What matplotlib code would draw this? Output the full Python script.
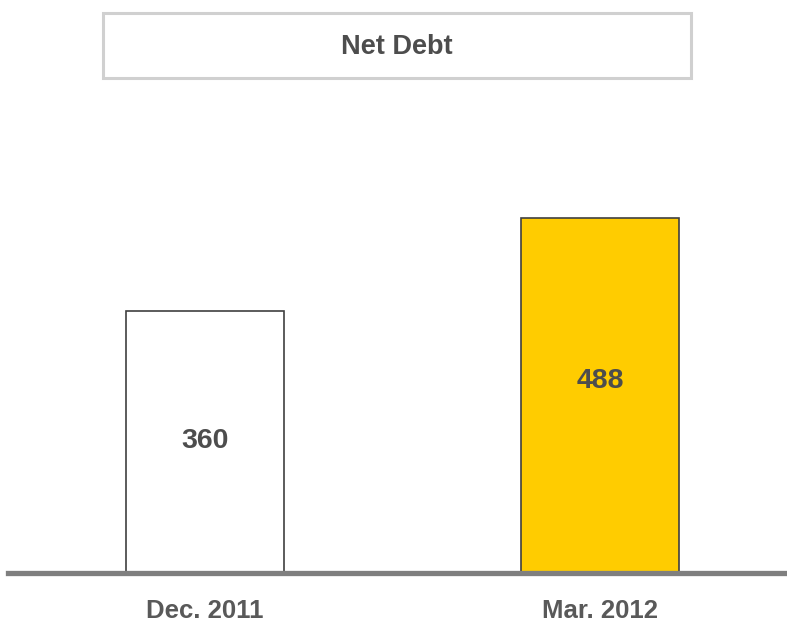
import matplotlib.pyplot as plt
from matplotlib.patches import Rectangle

categories = ["Dec. 2011", "Mar. 2012"]
net_debt = [360, 488]
bar_colors = ["#ffffff", "#ffcc00"]
label_frac = [0.505, 0.54]

plt.rcParams["font.family"] = ["Liberation Sans", "DejaVu Sans"]

W, H = 787, 625
fig = plt.figure(figsize=(W / 100, H / 100), dpi=100)

# axes: baseline at 573 px from top, spans full width
base_px = 573
ax = fig.add_axes([0, (H - base_px) / H, 1, base_px / H])
ax.set_xlim(-205 / 395, 1 + 187 / 395)
ax.set_ylim(0, base_px / 0.728)
ax.axis("off")

x = range(len(categories))
ax.bar(x, net_debt, width=0.4, color=bar_colors, edgecolor="#404040",
       linewidth=1.2, zorder=2)
ax.axhline(0, xmin=8 / W, xmax=1, color="#7f7f7f", linewidth=3.8,
           clip_on=False, zorder=3)

for i, v in enumerate(net_debt):
    ax.text(i, v * label_frac[i], str(v), ha="center", va="center",
            fontsize=20.5, fontweight="bold", color="#4d4d4d")
    ax.annotate(categories[i], xy=(i, 0), xytext=(0, -38 * 0.72),
                textcoords="offset points", ha="center", va="center",
                fontsize=18.5, fontweight="bold", color="#595959",
                annotation_clip=False)

# title box
fig.patches.append(Rectangle((103 / W, 1 - 78 / H), 588 / W, 65 / H,
                             transform=fig.transFigure, facecolor="white",
                             edgecolor="#d0d0d0", linewidth=2.2))
fig.text(397 / W, 1 - 47 / H, "Net Debt", ha="center", va="center",
         fontsize=19.5, fontweight="bold", color="#4d4d4d")

fig.savefig("out.png", dpi=100)
